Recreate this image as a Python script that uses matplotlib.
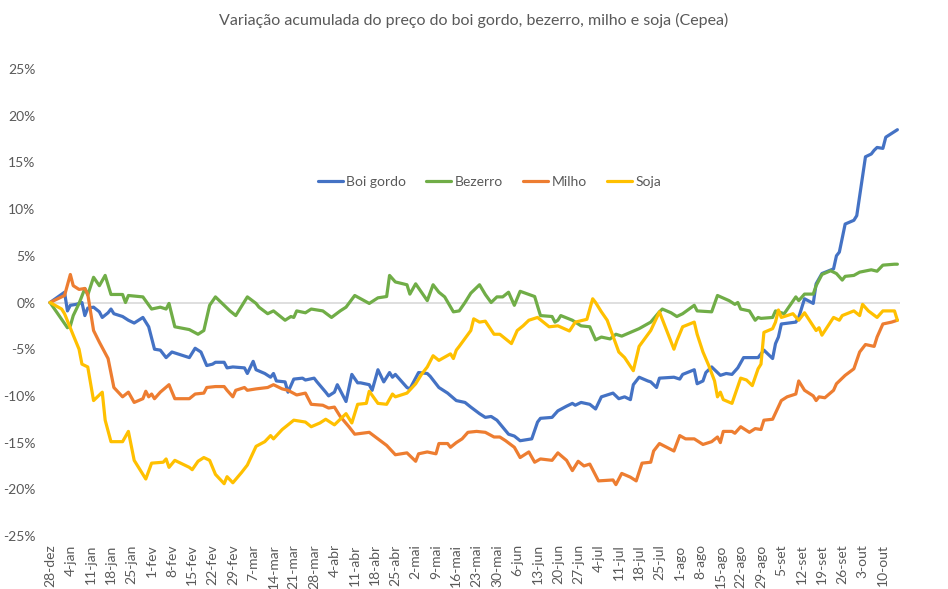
import matplotlib
matplotlib.use("Agg")
import matplotlib.pyplot as plt
import pandas as pd

# ---------------- data (variação acumulada, %) ----------------
datas_boi = ["12-28","01-02","01-03","01-04","01-06","01-08","01-09","01-10","01-12","01-14",
             "01-15","01-17","01-18","01-19","01-22","01-24","01-26","01-29","01-31","02-02",
             "02-04","02-06","02-08","02-10","02-14","02-16","02-18","02-20","02-22","02-23",
             "02-26","02-27","02-29","03-04","03-05","03-07","03-08","03-11","03-13","03-14",
             "03-15","03-18","03-19","03-21","03-24","03-25","03-28","03-29","04-01","04-02",
             "04-04","04-05","04-08","04-10","04-12","04-13","04-16","04-17","04-19","04-21",
             "04-23","04-24","04-25","04-29","04-30","05-03","05-06","05-07","05-10","05-13",
             "05-16","05-19","05-21","05-24","05-26","05-28","05-30","06-03","06-05","06-07",
             "06-11","06-13","06-14","06-18","06-20","06-23","06-25","06-26","06-28","07-01",
             "07-03","07-05","07-06","07-09","07-11","07-13","07-15","07-16","07-18","07-21",
             "07-22","07-24","07-25","07-30","08-01","08-02","08-06","08-07","08-09","08-10",
             "08-12","08-15","08-17","08-19","08-21","08-23","08-28","08-30","09-02","09-03",
             "09-04","09-05","09-10","09-11","09-13","09-16","09-17","09-19","09-23","09-24",
             "09-25","09-27","09-30","10-01","10-04","10-06","10-07","10-08","10-10","10-11",
             "10-13","10-15"]
boi_gordo = [0, 1.1, -0.9, -0.3, -0.2, 0.0, -1.4, -0.6, -0.5, -1.0,
             -1.6, -1.1, -0.7, -1.2, -1.5, -1.9, -2.2, -1.6, -2.6, -5.0,
             -5.1, -5.9, -5.3, -5.5, -5.9, -4.9, -5.3, -6.75, -6.6, -6.4,
             -6.4, -7.0, -6.9, -7.0, -7.6, -6.3, -7.2, -7.6, -8.0, -7.6,
             -8.4, -8.5, -9.6, -8.2, -8.1, -8.3, -8.1, -8.5, -9.6, -10.0,
             -9.6, -8.8, -10.6, -7.7, -8.6, -8.6, -8.8, -9.4, -7.2, -8.5,
             -7.5, -8.0, -7.7, -9.1, -9.25, -7.5, -7.6, -7.9, -9.1, -9.7,
             -10.5, -10.7, -11.2, -11.9, -12.3, -12.2, -12.6, -14.1, -14.3, -14.8,
             -14.6, -12.8, -12.4, -12.3, -11.6, -11.1, -10.8, -11.0, -10.7, -10.9,
             -11.4, -10.1, -10.0, -9.7, -10.3, -10.1, -10.4, -8.8, -8.0, -8.4,
             -8.5, -9.1, -8.1, -8.0, -8.2, -7.7, -7.2, -8.7, -8.4, -7.5,
             -6.9, -7.8, -7.6, -7.7, -7.0, -5.9, -5.9, -5.1, -6.0, -4.4,
             -3.7, -2.3, -2.1, -1.6, 0.4, -0.1, 2.0, 3.1, 3.6, 5.0,
             5.4, 8.4, 8.8, 9.3, 15.6, 15.9, 16.3, 16.6, 16.5, 17.7,
             18.1, 18.5]

datas_bezerro = ["12-28","01-03","01-04","01-05","01-07","01-09","01-10","01-12","01-14","01-16",
                 "01-18","01-22","01-23","01-24","01-29","02-01","02-04","02-06","02-07","02-09",
                 "02-14","02-17","02-19","02-21","02-23","02-28","03-01","03-05","03-08","03-09",
                 "03-12","03-14","03-18","03-20","03-21","03-22","03-25","03-27","03-31","04-03",
                 "04-06","04-08","04-11","04-16","04-19","04-22","04-23","04-25","04-29","04-30",
                 "05-02","05-06","05-08","05-10","05-12","05-15","05-17","05-19","05-21","05-24",
                 "05-26","05-28","05-30","06-01","06-03","06-05","06-07","06-12","06-14","06-18",
                 "06-19","06-20","06-21","06-25","06-28","07-01","07-03","07-05","07-08","07-10",
                 "07-12","07-15","07-18","07-22","07-25","07-26","07-29","07-31","08-02","08-06",
                 "08-07","08-12","08-14","08-18","08-20","08-21","08-22","08-25","08-27","08-28",
                 "08-29","09-02","09-03","09-06","09-10","09-11","09-13","09-16","09-17","09-19",
                 "09-22","09-24","09-26","09-27","09-30","10-02","10-06","10-08","10-10","10-14",
                 "10-15"]
bezerro = [0, -2.7, -2.5, -1.4, -0.1, 1.5, 0.8, 2.7, 1.8, 2.9,
           0.86, 0.86, 0.0, 0.75, 0.6, -0.7, -0.5, -0.7, -0.1, -2.6,
           -2.9, -3.4, -3.0, -0.3, 0.6, -0.9, -1.4, 0.6, -0.1, -0.5,
           -1.2, -0.9, -1.9, -1.5, -1.6, -0.9, -1.1, -0.7, -0.9, -1.6,
           -0.9, -0.5, 0.75, -0.1, 0.5, 0.64, 2.9, 2.2, 1.9, 0.9,
           2.0, 0.2, 1.9, 1.1, 0.6, -1.0, -0.9, 0.0, 1.0, 1.9,
           0.86, 0.0, 0.6, 0.6, 1.1, -0.3, 1.2, 0.64, -1.4, -1.5,
           -2.1, -1.9, -1.4, -1.9, -2.5, -2.6, -4.0, -3.7, -3.9, -3.4,
           -3.6, -3.2, -2.8, -2.1, -1.0, -0.7, -1.1, -1.5, -1.2, -0.3,
           -0.9, -1.0, 0.75, 0.2, -0.2, 0.0, -0.7, -0.9, -1.9, -1.6,
           -1.7, -1.6, -0.9, -1.2, 0.6, 0.2, 0.9, 0.9, 1.8, 3.0,
           3.4, 3.1, 2.4, 2.8, 2.9, 3.25, 3.5, 3.35, 4.0, 4.1,
           4.1]

datas_milho = ["12-28","01-02","01-04","01-05","01-07","01-09","01-10","01-12","01-14","01-17",
               "01-19","01-22","01-24","01-26","01-29","01-30","01-31","02-01","02-02","02-04",
               "02-07","02-09","02-14","02-16","02-19","02-20","02-23","02-26","02-27","02-29",
               "03-01","03-04","03-05","03-08","03-12","03-14","03-17","03-19","03-22","03-25",
               "03-27","03-31","04-02","04-04","04-06","04-09","04-11","04-16","04-19","04-22",
               "04-25","04-29","05-02","05-03","05-06","05-09","05-10","05-13","05-14","05-16",
               "05-18","05-20","05-23","05-26","05-29","05-31","06-02","06-05","06-07","06-10",
               "06-12","06-14","06-18","06-20","06-23","06-25","06-27","06-29","07-01","07-04",
               "07-09","07-10","07-12","07-15","07-17","07-19","07-22","07-23","07-25","07-30",
               "08-01","08-03","08-06","08-09","08-12","08-14","08-15","08-16","08-19","08-20",
               "08-22","08-25","08-27","08-29","08-30","09-02","09-05","09-07","09-10","09-11",
               "09-13","09-16","09-17","09-18","09-20","09-23","09-24","09-27","09-30","10-02",
               "10-04","10-07","10-08","10-10","10-13","10-15"]
milho = [0, 0.75, 3.0, 1.8, 1.4, 1.5, 0.9, -3.0, -4.25, -6.0,
         -9.1, -10.1, -9.6, -10.7, -10.3, -9.5, -10.1, -9.8, -10.3, -9.6,
         -8.8, -10.3, -10.3, -9.8, -9.7, -9.1, -9.0, -9.0, -9.4, -10.1,
         -9.4, -9.1, -9.4, -9.25, -9.1, -8.8, -9.25, -9.4, -9.9, -9.7,
         -10.9, -11.0, -11.3, -11.2, -12.2, -13.3, -14.1, -13.9, -14.6, -15.3,
         -16.3, -16.1, -17.0, -16.2, -16.0, -16.2, -15.1, -15.1, -15.5, -15.0,
         -14.6, -13.9, -13.8, -13.9, -14.4, -14.4, -14.8, -15.5, -16.6, -16.0,
         -17.1, -16.75, -16.9, -16.1, -16.9, -18.0, -17.0, -17.5, -17.3, -19.1,
         -19.0, -19.5, -18.3, -18.7, -19.1, -17.2, -17.1, -15.9, -15.1, -15.9,
         -14.25, -14.6, -14.6, -15.2, -14.9, -14.4, -15.0, -13.8, -13.8, -14.0,
         -13.3, -13.9, -13.5, -13.6, -12.6, -12.5, -10.5, -10.1, -9.8, -8.4,
         -9.4, -10.0, -10.5, -10.1, -10.2, -9.4, -8.7, -7.8, -7.1, -5.3,
         -4.5, -4.7, -3.7, -2.3, -2.1, -1.9]

datas_soja = ["12-28","01-01","01-02","01-05","01-07","01-08","01-10","01-12","01-15","01-16",
              "01-18","01-22","01-24","01-26","01-30","02-01","02-05","02-06","02-07","02-09",
              "02-14","02-15","02-17","02-19","02-21","02-23","02-26","02-27","02-29","03-03",
              "03-05","03-08","03-11","03-13","03-14","03-17","03-21","03-25","03-27","03-30",
              "04-01","04-04","04-08","04-10","04-12","04-15","04-16","04-19","04-22","04-24",
              "04-25","04-29","05-02","05-04","05-06","05-08","05-10","05-14","05-15","05-16",
              "05-17","05-21","05-22","05-24","05-26","05-29","05-31","06-04","06-06","06-08",
              "06-10","06-13","06-17","06-20","06-24","06-26","06-30","07-02","07-03","07-05",
              "07-07","07-11","07-13","07-16","07-18","07-22","07-25","07-30","07-31","08-02",
              "08-06","08-07","08-09","08-11","08-13","08-14","08-15","08-16","08-19","08-22",
              "08-24","08-26","08-28","08-29","08-30","09-02","09-03","09-04","09-05","09-09",
              "09-11","09-13","09-17","09-18","09-19","09-23","09-25","09-26","09-30","10-02",
              "10-03","10-05","10-08","10-10","10-14","10-15"]
soja = [0, -0.7, -1.2, -3.5, -5.0, -6.6, -6.9, -10.5, -9.6, -12.6,
        -14.9, -14.9, -13.8, -16.9, -18.9, -17.2, -17.1, -16.75, -17.65, -16.9,
        -17.65, -17.9, -17.0, -16.6, -16.9, -18.4, -19.4, -18.65, -19.3, -18.2,
        -17.4, -15.4, -14.9, -14.25, -14.6, -13.6, -12.6, -12.8, -13.3, -12.9,
        -12.5, -13.1, -11.9, -12.9, -10.9, -10.8, -9.5, -10.8, -10.9, -9.8,
        -10.1, -9.7, -8.7, -7.7, -6.9, -5.7, -6.2, -5.5, -6.0, -5.1,
        -4.7, -3.0, -1.75, -2.1, -2.0, -3.4, -3.4, -4.4, -3.0, -2.5,
        -1.9, -1.6, -2.6, -2.5, -3.05, -2.1, -1.8, 0.4, 0.0, -1.0,
        -1.9, -5.3, -5.9, -7.3, -4.7, -3.0, -1.0, -5.0, -4.1, -2.6,
        -2.1, -3.4, -5.3, -6.75, -8.4, -10.1, -9.6, -10.4, -10.8, -8.1,
        -8.3, -8.9, -7.1, -6.6, -3.2, -2.8, -2.1, -0.8, -1.6, -1.2,
        -1.9, -1.1, -3.0, -2.7, -3.5, -1.6, -1.9, -1.4, -0.9, -1.4,
        -0.2, -0.9, -1.6, -0.9, -0.9, -1.9]

series = ["Boi gordo", "Bezerro", "Milho", "Soja"]
cores = ["#4472C4", "#70AD47", "#ED7D31", "#FFC000"]
meses = ["jan", "fev", "mar", "abr", "mai", "jun", "jul", "ago", "set", "out", "nov", "dez"]
y_ticks = [-25, -20, -15, -10, -5, 0, 5, 10, 15, 20, 25]
titulo = "Variação acumulada do preço do boi gordo, bezerro, milho e soja (Cepea)"


def para_datas(lst):
    return pd.to_datetime([("2023-" if s.startswith("12") else "2024-") + s for s in lst])


plt.rcParams["font.family"] = ["Lato", "DejaVu Sans"]
cinza = "#595959"

fig = plt.figure(figsize=(9.48, 5.89), dpi=100)
ax = fig.add_axes([48 / 948, 1 - 536 / 589, 852 / 948, 467 / 589])

pares = [(datas_boi, boi_gordo), (datas_bezerro, bezerro), (datas_milho, milho), (datas_soja, soja)]
for (d, v), nome, cor in zip(pares, series, cores):
    n = min(len(d), len(v))
    ax.plot(para_datas(d[:n]), v[:n], color=cor, lw=2.3, label=nome,
            solid_joinstyle="round", solid_capstyle="round")

inicio = pd.Timestamp("2023-12-28")
ax.set_xlim(inicio - pd.Timedelta(days=0.7), inicio + pd.Timedelta(days=292.9))
ax.set_ylim(-25, 25)
ax.axhline(0, color="#d9d9d9", lw=1.2, zorder=0)

ax.set_yticks(y_ticks)
ax.set_yticklabels([f"{t}%" for t in y_ticks], color=cinza, fontsize=10)

semanas = pd.date_range("2023-12-28", "2024-10-10", freq="7D")
ax.set_xticks(semanas)
ax.set_xticklabels([f"{s.day}-{meses[s.month - 1]}" for s in semanas],
                   rotation=90, color=cinza, fontsize=10)

for sp in ax.spines.values():
    sp.set_visible(False)
ax.tick_params(axis="y", length=0, pad=9)
ax.tick_params(axis="x", length=0, pad=6)

leg = ax.legend(loc="center", bbox_to_anchor=(0.518, 0.758), ncol=4, frameon=False,
                handlelength=1.8, handletextpad=0.25, columnspacing=1.45, fontsize=10)
for t in leg.get_texts():
    t.set_color(cinza)

fig.text(0.5, 1 - 20 / 589, titulo, ha="center", va="center", fontsize=11.5, color=cinza)

fig.savefig("out.png", dpi=100)
